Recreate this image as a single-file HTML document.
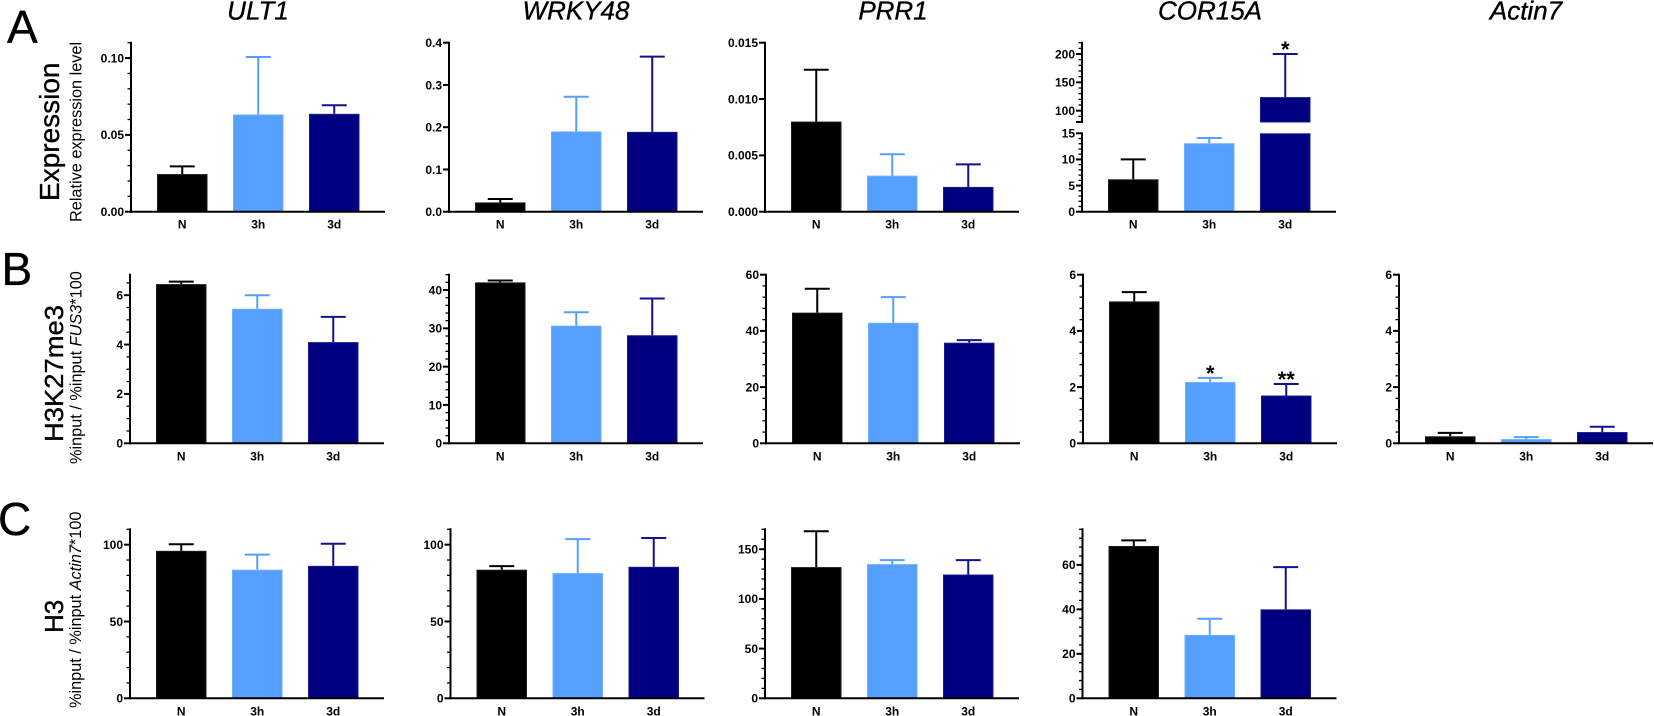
<!DOCTYPE html>
<html lang="en">
<head>
<meta charset="utf-8">
<title>Expression and histone marks at ULT1, WRKY48, PRR1, COR15A and Actin7</title>
<style>
html,body{margin:0;padding:0;background:#fff;}
svg{display:block;font-family:"Liberation Sans",sans-serif;}
.heavy{stroke:#000;stroke-width:0.35;}
</style>
</head>
<body>
<svg id="figure" xmlns="http://www.w3.org/2000/svg" width="1654" height="716" viewBox="0 0 1654 716">
  <rect x="0" y="0" width="1654" height="716" fill="#fff"/>

  <text class="heavy" x="258" y="19.5" font-size="26" font-style="italic" text-anchor="middle">ULT1</text>
  <text class="heavy" x="576" y="19.5" font-size="26" font-style="italic" text-anchor="middle">WRKY48</text>
  <text class="heavy" x="893" y="19.5" font-size="26" font-style="italic" text-anchor="middle">PRR1</text>
  <text class="heavy" x="1210" y="19.5" font-size="26" font-style="italic" text-anchor="middle">COR15A</text>
  <text class="heavy" x="1526" y="19.5" font-size="26" font-style="italic" text-anchor="middle">Actin7</text>

  <text class="heavy" x="7" y="43" font-size="46">A</text>
  <text class="heavy" x="1.5" y="285" font-size="46">B</text>
  <text class="heavy" x="-2" y="535" font-size="46">C</text>

  <text class="heavy" transform="translate(59,201) rotate(-90)" font-size="28">Expression</text>
  <text transform="translate(81.5,222) rotate(-90)" font-size="16.3">Relative expression level</text>

  <text class="heavy" transform="translate(63,442) rotate(-90)" font-size="26" textLength="137" lengthAdjust="spacingAndGlyphs">H3K27me3</text>
  <text transform="translate(81.5,464) rotate(-90)" font-size="16.3">%input / %input <tspan font-style="italic">FUS3</tspan>*100</text>

  <text class="heavy" transform="translate(63,633) rotate(-90)" font-size="26">H3</text>
  <text transform="translate(81,708) rotate(-90)" font-size="16.3">%input / %input <tspan font-style="italic">Actin7</tspan>*100</text>

  <g id="panels"></g>
</svg>

<script>
// Shared categories
const categories = ['N', '3h', '3d'];

// Row A: expression
const ult1ExprMeans = [0.0245, 0.0633, 0.0637];
const ult1ExprUpper = [0.0295, 0.1007, 0.0693];
const ult1ExprTicks = [0, 0.05, 0.10];
const ult1ExprLabels = ['0.00', '0.05', '0.10'];

const wrky48ExprMeans = [0.022, 0.190, 0.189];
const wrky48ExprUpper = [0.030, 0.272, 0.367];
const wrky48ExprTicks = [0, 0.1, 0.2, 0.3, 0.4];
const wrky48ExprLabels = ['0.0', '0.1', '0.2', '0.3', '0.4'];

const prr1ExprMeans = [0.0080, 0.0032, 0.0022];
const prr1ExprUpper = [0.0126, 0.0051, 0.0042];
const prr1ExprTicks = [0, 0.005, 0.010, 0.015];
const prr1ExprLabels = ['0.000', '0.005', '0.010', '0.015'];

const cor15aExprMeans = [6.2, 13.1, 124];
const cor15aExprUpper = [10, 14.1, 200];
const cor15aExprLowerTicks = [0, 5, 10, 15];
const cor15aExprLowerLabels = ['0', '5', '10', '15'];
const cor15aExprUpperTicks = [100, 150, 200];
const cor15aExprUpperLabels = ['100', '150', '200'];
const cor15aExprStars = ['', '', '*'];

// Row B: H3K27me3
const ult1K27Means = [6.45, 5.45, 4.1];
const ult1K27Upper = [6.55, 6.0, 5.12];
const ult1K27Ticks = [0, 2, 4, 6];
const ult1K27Labels = ['0', '2', '4', '6'];

const wrky48K27Means = [42, 30.7, 28.2];
const wrky48K27Upper = [42.5, 34.2, 37.8];
const wrky48K27Ticks = [0, 10, 20, 30, 40];
const wrky48K27Labels = ['0', '10', '20', '30', '40'];

const prr1K27Means = [46.5, 42.9, 35.8];
const prr1K27Upper = [55, 52, 36.7];
const prr1K27Ticks = [0, 20, 40, 60];
const prr1K27Labels = ['0', '20', '40', '60'];

const cor15aK27Means = [5.05, 2.18, 1.7];
const cor15aK27Upper = [5.38, 2.33, 2.11];
const cor15aK27Ticks = [0, 2, 4, 6];
const cor15aK27Labels = ['0', '2', '4', '6'];
const cor15aK27Stars = ['', '*', '**'];

const actin7K27Means = [0.25, 0.15, 0.4];
const actin7K27Upper = [0.37, 0.22, 0.59];
const actin7K27Ticks = [0, 2, 4, 6];
const actin7K27Labels = ['0', '2', '4', '6'];

// Row C: H3
const ult1H3Means = [96, 83.7, 86.2];
const ult1H3Upper = [100.3, 93.5, 100.6];
const ult1H3Ticks = [0, 50, 100];
const ult1H3Labels = ['0', '50', '100'];

const wrky48H3Means = [83.7, 81.5, 85.6];
const wrky48H3Upper = [86, 103.6, 104.3];
const wrky48H3Ticks = [0, 50, 100];
const wrky48H3Labels = ['0', '50', '100'];

const prr1H3Means = [132, 135, 124.5];
const prr1H3Upper = [168, 139, 139];
const prr1H3Ticks = [0, 50, 100, 150];
const prr1H3Labels = ['0', '50', '100', '150'];

const cor15aH3Means = [68.5, 28.5, 40];
const cor15aH3Upper = [71, 35.8, 59];
const cor15aH3Ticks = [0, 20, 40, 60];
const cor15aH3Labels = ['0', '20', '40', '60'];

// Drawing
const SVG_NS = 'http://www.w3.org/2000/svg';
const barColors = ['#000000', '#559fff', '#000080'];
const barEdges = ['#1c1c1c', '#6cb0ff', '#1a1a90'];
const errColors = ['#000000', '#559fff', '#12128c'];
const root = document.getElementById('panels');

function svgEl(parent, tag, attrs, text) {
  const el = document.createElementNS(SVG_NS, tag);
  Object.keys(attrs).forEach(function (k) { el.setAttribute(k, attrs[k]); });
  if (text !== undefined) el.textContent = text;
  parent.appendChild(el);
  return el;
}

function segmentScale(seg) {
  return function (v) {
    return seg.pxLo + (v - seg.lo) * (seg.pxHi - seg.pxLo) / (seg.hi - seg.lo);
  };
}

function valueToY(segments, v) {
  for (let i = 0; i < segments.length; i++) {
    if (v <= segments[i].hi || i === segments.length - 1) return segmentScale(segments[i])(v);
  }
}

function drawPanel(p) {
  const g = svgEl(root, 'g', {});
  
  

  const baseY = p.segments[0].pxLo;
  const barWidth = 50.5;
  const barOffsets = [26, 102, 178];

  // error bars are drawn first so the bar top sits over the stem
  categories.forEach(function (cat, i) {
    const cx = p.axisX + barOffsets[i] + barWidth / 2;
    const top = valueToY(p.segments, p.upper[i]);
    const mean = valueToY(p.segments, p.means[i]);
    const stem = svgEl(g, 'line', {x1: cx, x2: cx, y1: mean, y2: top, stroke: errColors[i], 'stroke-width': 2});
    
    
    const cap = svgEl(g, 'line', {x1: cx - 12.5, x2: cx + 12.5, y1: top, y2: top, stroke: errColors[i], 'stroke-width': 2});
    
    
  });

  categories.forEach(function (cat, i) {
    const x = p.axisX + barOffsets[i];
    const v = p.means[i];
    p.segments.forEach(function (seg, s) {
      if (v <= seg.lo) return;
      const sc = segmentScale(seg);
      const yTop = sc(Math.min(v, seg.hi));
      const yBot = sc(seg.lo);
      const rect = svgEl(g, 'rect', {x: x + 0.5, y: yTop + 0.5, width: barWidth - 1, height: Math.max(yBot - yTop - 0.5, 0.5), fill: barColors[i], stroke: barEdges[i], 'stroke-width': 1});
      
      
    });
    const label = svgEl(g, 'text', {x: x + barWidth / 2, y: baseY + 17, 'font-size': 12, 'font-weight': 'bold', 'text-anchor': 'middle'}, cat);
    
    
    if (p.stars && p.stars[i]) {
      const star = svgEl(g, 'text', {x: x + barWidth / 2, y: valueToY(p.segments, p.upper[i]) + 3, 'font-size': 22, 'font-weight': 'bold', 'text-anchor': 'middle'}, p.stars[i]);
      
      
    }
  });

  p.segments.forEach(function (seg, s) {
    const sc = segmentScale(seg);
    const yAxis = svgEl(g, 'line', {x1: p.axisX, x2: p.axisX, y1: sc(seg.lo) + 1, y2: sc(seg.hi) - 1, stroke: '#000', 'stroke-width': 2});
    
    

    const step = (seg.ticks[1] - seg.ticks[0]) / (seg.minor + 1);
    const first = seg.ticks[0] - step * Math.floor((seg.ticks[0] - seg.lo) / step + 1e-6);
    for (let k = 0; first + k * step <= seg.hi + step * 1e-6; k++) {
      const mv = first + k * step;
      const minor = svgEl(g, 'line', {x1: p.axisX - 3.5, x2: p.axisX, y1: sc(mv), y2: sc(mv), stroke: '#000', 'stroke-width': 1.3});
      
      
    }
    seg.ticks.forEach(function (t, j) {
      const major = svgEl(g, 'line', {x1: p.axisX - 6, x2: p.axisX, y1: sc(t), y2: sc(t), stroke: '#000', 'stroke-width': 2});
      
      
      const lab = svgEl(g, 'text', {x: p.axisX - 7, y: sc(t) + 4.3, 'font-size': 12, 'font-weight': 'bold', 'text-anchor': 'end'}, seg.labels[j]);
      
      
    });
    if (seg.endTick) {
      const endMark = svgEl(g, 'line', {x1: p.axisX - 6, x2: p.axisX, y1: sc(seg.lo), y2: sc(seg.lo), stroke: '#000', 'stroke-width': 2});
      
      
    }
  });

  const xAxis = svgEl(g, 'line', {x1: p.axisX - 1, x2: p.axisX + 254, y1: baseY, y2: baseY, stroke: '#000', 'stroke-width': 2});
  
  
}

const ROW_A = {base: 211.7, top: 42.7};
const ROW_B = {base: 443.3, top: 274.7};
const ROW_C = {base: 698.3, top: 529.3};

function single(row, lo, hi, ticks, labels, minor) {
  return [{lo: lo, hi: hi, pxLo: row.base, pxHi: row.top, ticks: ticks, labels: labels, minor: minor}];
}

drawPanel({name: 'expression-ult1', axisX: 131, means: ult1ExprMeans, upper: ult1ExprUpper, segments: single(ROW_A, 0, 0.11, ult1ExprTicks, ult1ExprLabels, 4)});
drawPanel({name: 'expression-wrky48', axisX: 449, means: wrky48ExprMeans, upper: wrky48ExprUpper, segments: single(ROW_A, 0, 0.4, wrky48ExprTicks, wrky48ExprLabels, 0)});
drawPanel({name: 'expression-prr1', axisX: 765, means: prr1ExprMeans, upper: prr1ExprUpper, segments: single(ROW_A, 0, 0.015, prr1ExprTicks, prr1ExprLabels, 0)});
drawPanel({name: 'expression-cor15a', axisX: 1082, means: cor15aExprMeans, upper: cor15aExprUpper, stars: cor15aExprStars, segments: [
  {lo: 0, hi: 15, pxLo: ROW_A.base, pxHi: 133.3, ticks: cor15aExprLowerTicks, labels: cor15aExprLowerLabels, minor: 4},
  {lo: 80, hi: 220, pxLo: 122, pxHi: ROW_A.top, ticks: cor15aExprUpperTicks, labels: cor15aExprUpperLabels, minor: 4, endTick: true}
]});

drawPanel({name: 'h3k27me3-ult1', axisX: 130, means: ult1K27Means, upper: ult1K27Upper, segments: single(ROW_B, 0, 6.83, ult1K27Ticks, ult1K27Labels, 3)});
drawPanel({name: 'h3k27me3-wrky48', axisX: 449, means: wrky48K27Means, upper: wrky48K27Upper, segments: single(ROW_B, 0, 44, wrky48K27Ticks, wrky48K27Labels, 4)});
drawPanel({name: 'h3k27me3-prr1', axisX: 766, means: prr1K27Means, upper: prr1K27Upper, segments: single(ROW_B, 0, 60, prr1K27Ticks, prr1K27Labels, 4)});
drawPanel({name: 'h3k27me3-cor15a', axisX: 1083, means: cor15aK27Means, upper: cor15aK27Upper, stars: cor15aK27Stars, segments: single(ROW_B, 0, 6, cor15aK27Ticks, cor15aK27Labels, 4)});
drawPanel({name: 'h3k27me3-actin7', axisX: 1399, means: actin7K27Means, upper: actin7K27Upper, segments: single(ROW_B, 0, 6, actin7K27Ticks, actin7K27Labels, 4)});

drawPanel({name: 'h3-ult1', axisX: 130, means: ult1H3Means, upper: ult1H3Upper, segments: single(ROW_C, 0, 110, ult1H3Ticks, ult1H3Labels, 4)});
drawPanel({name: 'h3-wrky48', axisX: 450.5, means: wrky48H3Means, upper: wrky48H3Upper, segments: single(ROW_C, 0, 110, wrky48H3Ticks, wrky48H3Labels, 4)});
drawPanel({name: 'h3-prr1', axisX: 765, means: prr1H3Means, upper: prr1H3Upper, segments: single(ROW_C, 0, 170, prr1H3Ticks, prr1H3Labels, 4)});
drawPanel({name: 'h3-cor15a', axisX: 1082.5, means: cor15aH3Means, upper: cor15aH3Upper, segments: single(ROW_C, 0, 76, cor15aH3Ticks, cor15aH3Labels, 4)});
</script>
</body>
</html>
